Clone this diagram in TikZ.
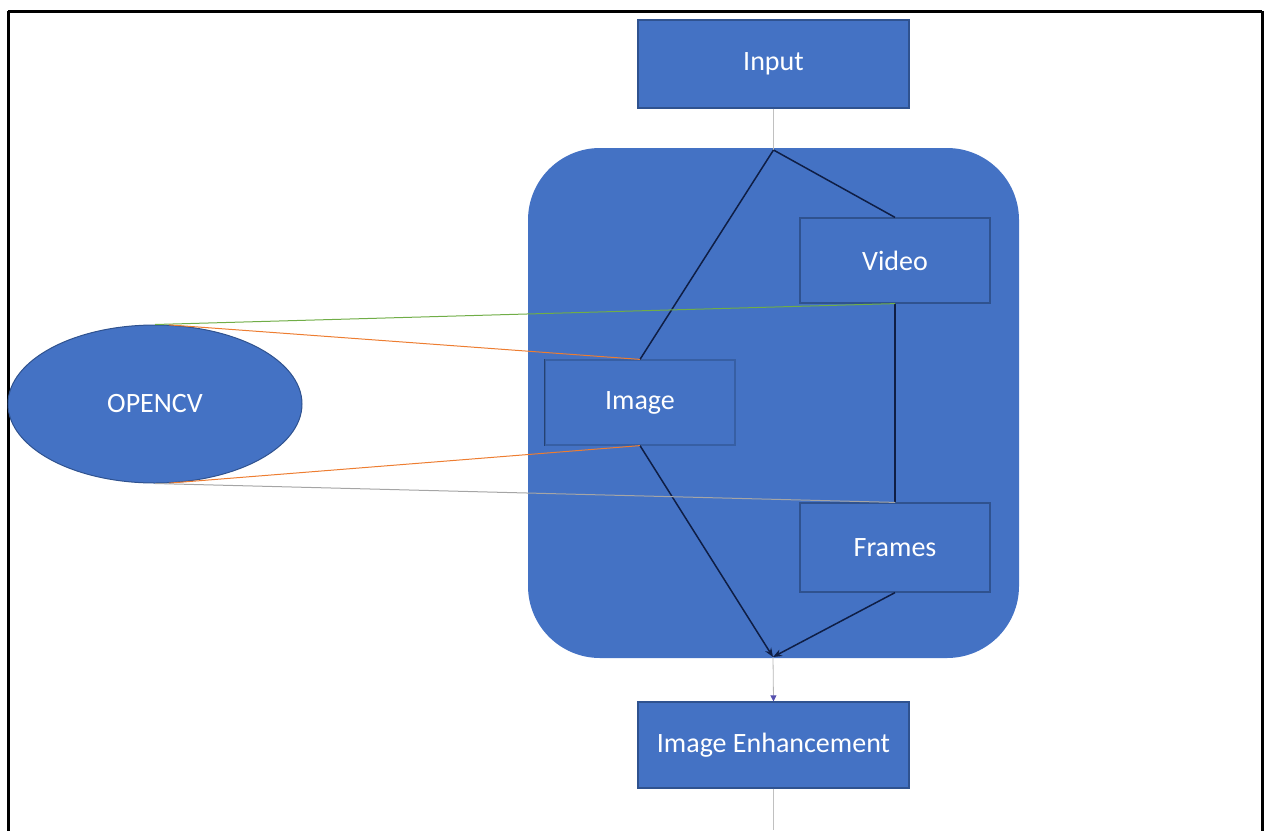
\documentclass[tikz,border=0pt]{standalone}
\usepackage{fontspec}
\setmainfont{Carlito}
\usetikzlibrary{shapes.geometric,arrows.meta}
\definecolor{offblue}{HTML}{4472C4}
\definecolor{edgeblue}{HTML}{2F528F}
\definecolor{navy}{HTML}{0F1E45}
\definecolor{ogreen}{HTML}{70AD47}
\definecolor{oorange}{HTML}{ED7D31}
\definecolor{ogray}{HTML}{A5A5A5}
\tikzset{
  boxnode/.style={rectangle, fill=offblue, draw=edgeblue, line width=1.2pt, text=white,
    font=\fontsize{28}{32}\selectfont, inner sep=0pt},
  flowline/.style={draw=navy, line width=1.5pt},
  thinline/.style={draw=ogray!70, line width=0.8pt},
  cvline/.style={line width=1pt},
}
\begin{document}
\begin{tikzpicture}[x=1pt,y=-1pt]
\useasboundingbox (0,0) rectangle (1265,830);
% outer frame
\draw[line width=3pt, black] (8,11) -- (1262,11);
\draw[line width=3pt, black] (8,11) -- (8,840);
\draw[line width=3pt, black] (1262,11) -- (1262,840);
% big rounded container
\node[draw=none, fill=offblue, rounded corners=72pt, minimum width=491pt, minimum height=510pt, inner sep=0pt] (group) at (773.5,403) {};
% nodes
\node[boxnode, minimum width=271pt, minimum height=88pt] (input) at (773.5,64) {Input};
\node[boxnode, minimum width=190pt, minimum height=85pt] (video) at (895,260.5) {Video};
\node[boxnode, minimum width=190pt, minimum height=85pt, draw=edgeblue!60!offblue] (image) at (640,402.5) {Image};
\node[boxnode, minimum width=190pt, minimum height=89pt] (frames) at (895,547.5) {Frames};
\node[boxnode, ellipse, minimum width=294pt, minimum height=158pt, draw=edgeblue, line width=1pt] (opencv) at (155,404) {OPENCV};
\node[boxnode, minimum width=271pt, minimum height=86pt] (enh) at (773.5,745) {Image Enhancement};
% helper coordinates
\coordinate (split) at (773.5,150);
\coordinate (merge) at (773,657);
\coordinate (below) at (773.5,830);
% draw the left box edge darker (as in reference)
\draw[edgeblue!80!black, line width=1.5pt] (image.north west) -- (image.south west);
% connectors
\draw[thinline] (input.south) -- (split);
\draw[flowline] (split) -- (image.north);
\draw[flowline] (split) -- (video.north);
\draw[flowline] (video.south) -- (frames.north);
\draw[flowline, -{Stealth[length=9pt,width=7pt]}] (image.south) -- (merge);
\draw[flowline, -{Stealth[length=9pt,width=7pt]}] (frames.south) -- (merge);
\draw[thinline, draw=ogray!80, -{Triangle[length=6pt,width=6pt,color=offblue!70!violet]}] (merge) -- (enh.north);
\draw[thinline] (enh.south) -- (below);
% OPENCV links
\draw[cvline, ogreen] (opencv.north) -- (video.south);
\draw[cvline, oorange] (opencv.80) -- (image.north);
\draw[cvline, oorange] (opencv.-80) -- (image.south);
\draw[cvline, ogray] (opencv.south) -- (frames.north);
\end{tikzpicture}
\end{document}
